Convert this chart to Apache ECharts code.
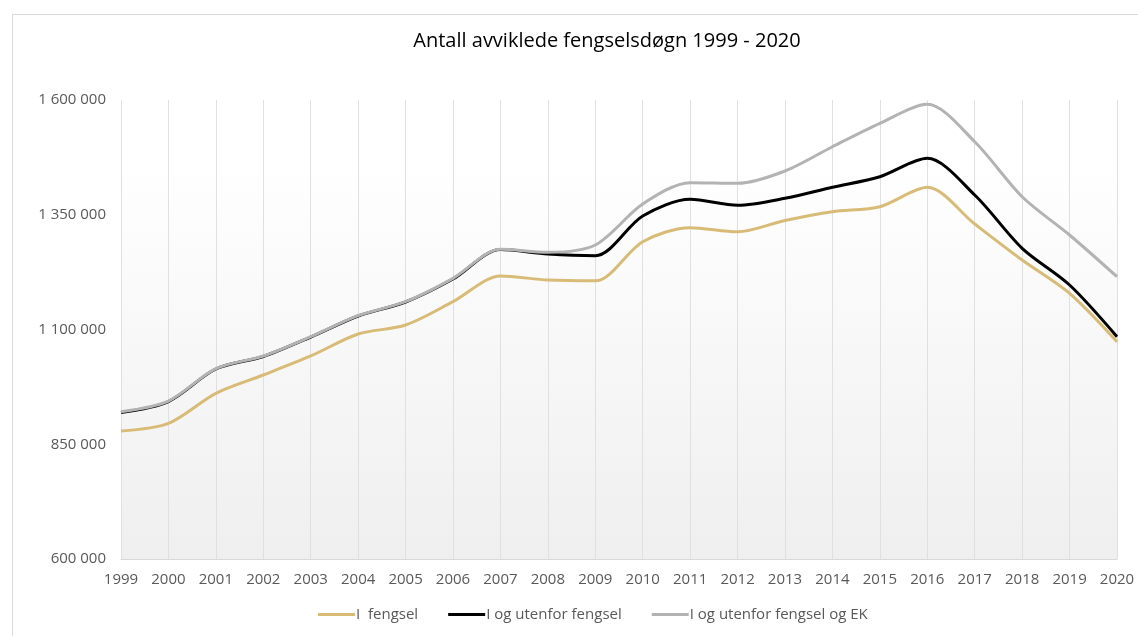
<!DOCTYPE html>
<html>
<head>
<meta charset="utf-8">
<title>Antall avviklede fengselsdøgn</title>
<script src="https://cdn.jsdelivr.net/npm/echarts@6/dist/echarts.min.js"></script>
<style>
	html, body { margin: 0; padding: 0; background: #fff; }
	#main { width: 1138px; height: 636px; }
</style>
</head>
<body>
<div id="main"></div>
<script>
// years on the x axis
var years = ['1999','2000','2001','2002','2003','2004','2005','2006','2007','2008','2009',
	'2010','2011','2012','2013','2014','2015','2016','2017','2018','2019','2020'];

// I fengsel
var iFengsel = [879000, 895600, 961000, 1000900, 1042300, 1090200, 1109800, 1160600, 1216500, 1207800, 1206000,
	1291300, 1321800, 1313000, 1337500, 1356600, 1367500, 1409800, 1329800, 1251400, 1178800, 1073400];

// I og utenfor fengsel
var iOgUtenfor = [919200, 943100, 1013900, 1041200, 1083600, 1129400, 1159900, 1210000, 1274300, 1264500, 1260800,
	1347300, 1383600, 1370600, 1385800, 1409800, 1432900, 1473000, 1393000, 1276900, 1196900, 1084300];

// I og utenfor fengsel og EK
var iOgUtenforEK = [920900, 944200, 1014600, 1042300, 1084300, 1130100, 1160600, 1211500, 1274700, 1268200, 1284100,
	1373400, 1419800, 1418500, 1445300, 1498200, 1549200, 1590600, 1509100, 1389300, 1305900, 1215000];

var seriesNames = ['I  fengsel', 'I og utenfor fengsel', 'I og utenfor fengsel og EK'];
var yTicks = [600000, 850000, 1100000, 1350000, 1600000];

var font = '"Open Sans", "Noto Sans", sans-serif';

function fmt(v) {
	// 1600000 -> "1 600 000"
	return String(v).replace(/\B(?=(\d{3})+(?!\d))/g, ' ');
}

var myChart = echarts.init(document.getElementById('main'));

var option = {
	animation: false,
	backgroundColor: '#ffffff',
	color: ['#d8bb76', '#000000', '#b3b3b3'],
	graphic: [
		{
			// chart frame
			type: 'rect',
			left: 10, top: 12,
			shape: { width: 1140, height: 640 },
			style: { fill: 'none', stroke: '#d9d9d9', lineWidth: 1 },
			silent: true
		}
	],
	title: {
		text: 'Antall avviklede fengselsdøgn 1999 - 2020',
		left: 602,
		textAlign: 'center',
		top: 26,
		textStyle: { fontFamily: font, fontSize: 20, fontWeight: 'normal', color: '#000000' }
	},
	legend: {
		data: seriesNames,
		left: 313,
		top: 602,
		itemWidth: 37,
		itemHeight: 3,
		itemGap: 30,
		icon: 'rect',
		textStyle: { fontFamily: font, fontSize: 15, color: '#595959', padding: [0, 0, 0, -4] }
	},
	grid: {
		left: 121,
		right: 21,
		top: 100,
		bottom: 77,
		show: true,
		borderWidth: 0,
		backgroundColor: {
			type: 'linear', x: 0, y: 0, x2: 0, y2: 1,
			colorStops: [
				{ offset: 0, color: '#ffffff' },
				{ offset: 0.13, color: '#ffffff' },
				{ offset: 1, color: '#efefef' }
			]
		}
	},
	xAxis: {
		type: 'category',
		data: years,
		boundaryGap: false,
		axisLine: { show: true, lineStyle: { color: '#d9d9d9', width: 1 } },
		axisTick: { show: false },
		axisLabel: { fontFamily: font, fontSize: 15, color: '#595959', margin: 13 },
		splitLine: { show: true, lineStyle: { color: '#e0e0e0', width: 1 } }
	},
	yAxis: {
		type: 'value',
		min: yTicks[0],
		max: yTicks[yTicks.length - 1],
		interval: 250000,
		axisLine: { show: false },
		axisTick: { show: false },
		splitLine: { show: false },
		axisLabel: {
			fontFamily: font, fontSize: 15, color: '#595959', margin: 15,
			formatter: function (v) { return fmt(v); }
		}
	},
	series: [
		{
			name: seriesNames[0],
			type: 'line',
			data: iFengsel,
			smooth: 0.3,
			symbol: 'none',
			lineStyle: { width: 3 }
		},
		{
			name: seriesNames[1],
			type: 'line',
			data: iOgUtenfor,
			smooth: 0.3,
			symbol: 'none',
			lineStyle: { width: 3 }
		},
		{
			name: seriesNames[2],
			type: 'line',
			data: iOgUtenforEK,
			smooth: 0.3,
			symbol: 'none',
			lineStyle: { width: 3 }
		}
	]
};

myChart.setOption(option);
</script>
</body>
</html>
